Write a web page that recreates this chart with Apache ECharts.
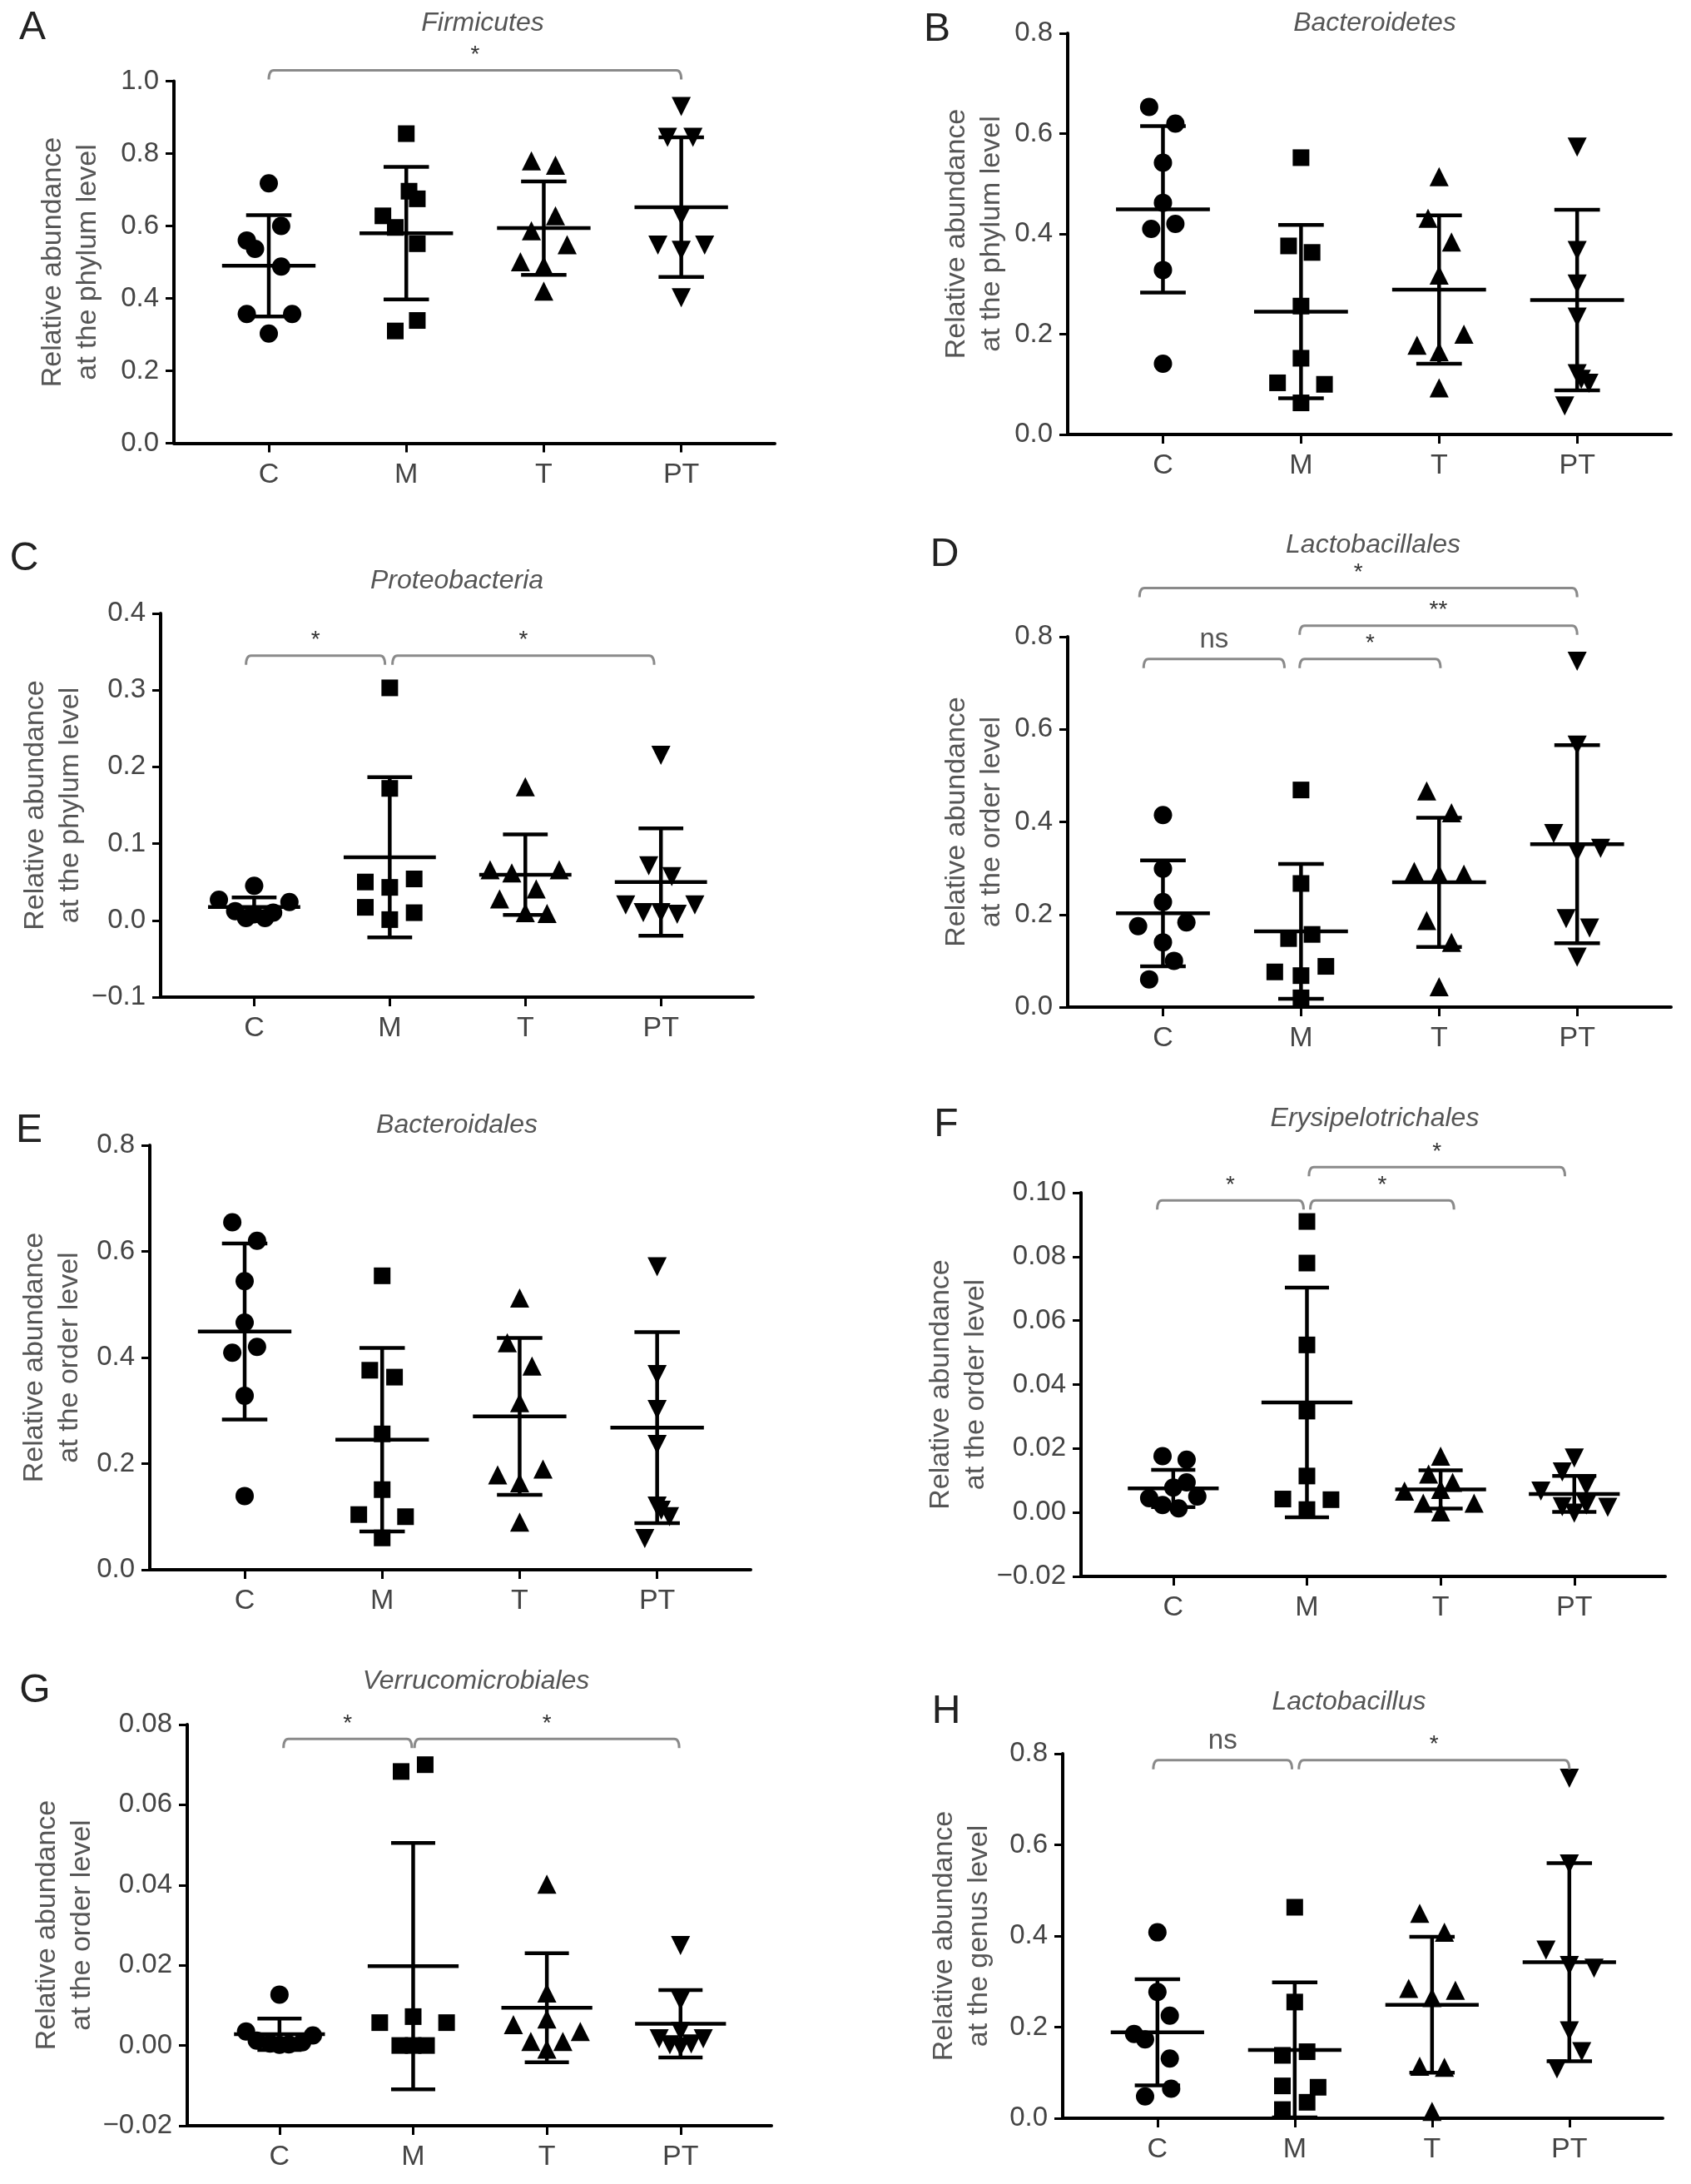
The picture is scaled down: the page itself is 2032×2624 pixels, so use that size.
<!DOCTYPE html>
<html>
<head>
<meta charset="utf-8">
<script src="https://cdn.jsdelivr.net/npm/echarts@6/dist/echarts.min.js"></script>
<style>
html,body{margin:0;padding:0;background:#fff;}
#chart{width:2032px;height:2624px;}
</style>
</head>
<body>
<div id="chart"></div>
<script>
// ---------------- DATA ----------------
const categories = ['C', 'M', 'T', 'PT'];

// A: Firmicutes (phylum)
const firmicutesValues = [
  [0.718, 0.600, 0.560, 0.537, 0.488, 0.357, 0.357, 0.303],
  [0.855, 0.628, 0.596, 0.696, 0.675, 0.551, 0.310, 0.339],
  [0.780, 0.768, 0.628, 0.587, 0.548, 0.501, 0.490, 0.420],
  [0.930, 0.845, 0.845, 0.628, 0.547, 0.547, 0.533, 0.402]
];
const firmicutesJitter = [
  [0, 0.09, -0.16, -0.10, 0.09, -0.16, 0.17, 0],
  [0, -0.17, -0.08, 0.02, 0.08, 0.08, -0.08, 0.08],
  [-0.09, 0.085, 0.085, -0.09, 0.17, -0.17, 0, 0],
  [0, -0.10, 0.085, 0, -0.17, 0.17, 0, 0]
];
const firmicutesMean = [0.490, 0.580, 0.594, 0.652];
const firmicutesSD = [0.140, 0.183, 0.129, 0.193];
const firmicutesTicks = [0, 1.0, 0.2];
const firmicutesBrackets = [[1.0, 4.0, 1.03, '*']];

// B: Bacteroidetes (phylum)
const bacteroidetesValues = [
  [0.653, 0.620, 0.542, 0.462, 0.410, 0.420, 0.328, 0.141],
  [0.552, 0.376, 0.363, 0.256, 0.152, 0.103, 0.100, 0.063],
  [0.514, 0.431, 0.384, 0.318, 0.178, 0.200, 0.165, 0.093],
  [0.573, 0.367, 0.300, 0.234, 0.121, 0.102, 0.057, 0.110]
];
const bacteroidetesJitter = [
  [-0.10, 0.09, 0, 0, -0.085, 0.09, 0, 0],
  [0, -0.09, 0.08, 0, 0, -0.17, 0.17, 0],
  [0, -0.08, 0.09, 0, -0.16, 0.18, 0, 0],
  [0, 0, 0, 0, 0, 0.085, -0.09, 0.03]
];
const bacteroidetesMean = [0.449, 0.245, 0.289, 0.268];
const bacteroidetesSD = [0.166, 0.173, 0.148, 0.180];
const bacteroidetesTicks = [0, 0.8, 0.2];
const bacteroidetesBrackets = [];

// C: Proteobacteria (phylum)
const proteobacteriaValues = [
  [0.045, 0.027, 0.024, 0.012, 0.008, 0.010, 0.003, 0.003],
  [0.303, 0.172, 0.050, 0.054, 0.043, 0.017, 0.010, 0.001],
  [0.174, 0.066, 0.062, 0.066, 0.041, 0.028, 0.010, 0.009],
  [0.215, 0.071, 0.057, 0.020, 0.020, 0.010, 0.010, 0.008]
];
const proteobacteriaJitter = [
  [0, -0.26, 0.26, -0.14, 0, 0.14, -0.06, 0.08],
  [0, 0, -0.18, 0.18, 0, -0.18, 0.18, 0],
  [0, -0.26, -0.10, 0.25, 0.08, -0.19, 0, 0.16],
  [0, -0.09, 0.08, -0.26, 0.25, -0.13, 0, 0.12]
];
const proteobacteriaMean = [0.0175, 0.0823, 0.0595, 0.050];
const proteobacteriaSD = [0.0125, 0.1044, 0.0525, 0.070];
const proteobacteriaTicks = [-0.1, 0.4, 0.1];
const proteobacteriaBrackets = [[0.94, 1.965, 0.345, '*'], [2.02, 3.95, 0.345, '*']];

// D: Lactobacillales (order)
const lactobacillalesValues = [
  [0.415, 0.299, 0.227, 0.175, 0.183, 0.140, 0.100, 0.060],
  [0.469, 0.267, 0.148, 0.157, 0.076, 0.088, 0.068, 0.020],
  [0.467, 0.420, 0.293, 0.287, 0.287, 0.187, 0.140, 0.044],
  [0.747, 0.566, 0.375, 0.335, 0.343, 0.191, 0.171, 0.108]
];
const lactobacillalesJitter = [
  [0, 0, 0, -0.18, 0.17, 0, 0.08, -0.10],
  [0, 0, -0.09, 0.08, -0.19, 0.18, 0, 0],
  [-0.09, 0.09, -0.18, 0, 0.18, -0.09, 0.09, 0],
  [0, 0, -0.17, 0, 0.17, -0.08, 0.09, 0]
];
const lactobacillalesMean = [0.2025, 0.1635, 0.2695, 0.352];
const lactobacillalesSD = [0.1145, 0.1455, 0.1395, 0.214];
const lactobacillalesTicks = [0, 0.8, 0.2];
const lactobacillalesBrackets = [
  [0.83, 4.0, 0.905, '*'], [0.86, 1.88, 0.752, 'ns'],
  [1.99, 3.01, 0.752, '*'], [1.99, 4.0, 0.824, '**']
];

// E: Bacteroidales (order)
const bacteroidalesValues = [
  [0.655, 0.620, 0.544, 0.466, 0.409, 0.420, 0.328, 0.139],
  [0.554, 0.376, 0.363, 0.256, 0.151, 0.104, 0.100, 0.060],
  [0.512, 0.428, 0.384, 0.315, 0.179, 0.190, 0.164, 0.090],
  [0.571, 0.368, 0.302, 0.236, 0.120, 0.100, 0.059, 0.112]
];
const bacteroidalesJitter = [
  [-0.09, 0.09, 0, 0, -0.09, 0.09, 0, 0],
  [0, -0.09, 0.09, 0, 0, -0.17, 0.17, 0],
  [0, -0.09, 0.09, 0, -0.16, 0.17, 0, 0],
  [0, 0, 0, 0, 0, 0.09, -0.09, 0.03]
];
const bacteroidalesMean = [0.449, 0.245, 0.289, 0.268];
const bacteroidalesSD = [0.166, 0.173, 0.148, 0.180];
const bacteroidalesTicks = [0, 0.8, 0.2];
const bacteroidalesBrackets = [];

// F: Erysipelotrichales (order)
const erysipelotrichalesValues = [
  [0.0176, 0.0165, 0.0094, 0.0078, 0.0045, 0.0050, 0.0023, 0.0013],
  [0.0910, 0.0780, 0.0524, 0.0317, 0.0114, 0.0042, 0.0040, 0.0009],
  [0.0176, 0.0120, 0.0094, 0.0067, 0.0072, 0.0029, 0.0029, 0.0002],
  [0.0170, 0.0127, 0.0083, 0.0067, 0.0018, 0.0023, 0.0016, -0.0002]
];
const erysipelotrichalesJitter = [
  [-0.08, 0.10, 0.10, 0, -0.18, 0.18, -0.08, 0.04],
  [0, 0, 0, 0, 0, -0.18, 0.18, 0],
  [0, -0.09, 0.09, -0.27, 0, -0.13, 0.25, 0],
  [0, -0.09, 0.09, -0.25, -0.09, 0.09, 0.25, 0]
];
const erysipelotrichalesMean = [0.0075, 0.0344, 0.0072, 0.0058];
const erysipelotrichalesSD = [0.0058, 0.0359, 0.0060, 0.0056];
const erysipelotrichalesTicks = [-0.02, 0.10, 0.02];
const erysipelotrichalesBrackets = [
  [0.88, 1.975, 0.0976, '*'], [2.025, 3.10, 0.0976, '*'], [2.015, 3.93, 0.108, '*']
];

// G: Verrucomicrobiales (order)
const verrucomicrobialesValues = [
  [0.0127, 0.0035, 0.0025, 0.0012, 0.0008, 0.0005, 0.0003, 0.0002],
  [0.0683, 0.0700, 0.0072, 0.0057, 0.0057, 0.0000, 0.0000, 0.0000],
  [0.0402, 0.0131, 0.0066, 0.0052, 0.0035, 0.0010, 0.0010, -0.0009],
  [0.0249, 0.0112, 0.0035, 0.0017, 0.0017, 0.0002, 0.0004, -0.0004]
];
const verrucomicrobialesJitter = [
  [0, -0.25, 0.25, -0.17, 0.17, -0.07, 0.07, 0],
  [-0.09, 0.09, 0, -0.25, 0.25, -0.10, 0, 0.10],
  [0, 0, 0, -0.25, 0.25, -0.12, 0.12, 0],
  [0, 0, 0, -0.16, 0.17, -0.08, 0.08, 0]
];
const verrucomicrobialesMean = [0.0028, 0.0198, 0.0094, 0.0054];
const verrucomicrobialesSD = [0.0039, 0.0307, 0.0136, 0.0084];
const verrucomicrobialesTicks = [-0.02, 0.08, 0.02];
const verrucomicrobialesBrackets = [[1.03, 1.99, 0.0764, '*'], [2.01, 3.99, 0.0764, '*']];

// H: Lactobacillus (genus)
const lactobacillusValues = [
  [0.408, 0.277, 0.225, 0.185, 0.173, 0.131, 0.065, 0.048],
  [0.463, 0.255, 0.138, 0.146, 0.071, 0.068, 0.035, 0.019],
  [0.450, 0.408, 0.285, 0.265, 0.281, 0.114, 0.112, 0.015],
  [0.746, 0.558, 0.369, 0.335, 0.329, 0.192, 0.146, 0.108]
];
const lactobacillusJitter = [
  [0, 0, 0.09, -0.17, -0.09, 0.09, 0.10, -0.09],
  [0, 0, -0.09, 0.09, -0.09, 0.17, 0.09, -0.09],
  [-0.09, 0.09, -0.17, 0, 0.17, -0.09, 0.09, 0],
  [0, 0, -0.17, 0, 0.18, 0, 0.09, -0.09]
];
const lactobacillusMean = [0.1885, 0.150, 0.249, 0.3425];
const lactobacillusSD = [0.1165, 0.148, 0.149, 0.2175];
const lactobacillusTicks = [0, 0.8, 0.2];
const lactobacillusBrackets = [[0.97, 1.98, 0.786, 'ns'], [2.03, 4.0, 0.786, '*']];

// ---------------- LAYOUT / STYLE ----------------
const FONT = '"Liberation Sans", Arial, Helvetica, sans-serif';
const panels = [
  {letter:'A', title:'Firmicutes', level:'phylum', vals:firmicutesValues, jit:firmicutesJitter, mean:firmicutesMean, sd:firmicutesSD, ticks:firmicutesTicks, br:firmicutesBrackets, dec:1,
   grid:[209, 97.5, 722, 435], nameGap:82, titlePos:[580, 28], letterPos:[39, 34]},
  {letter:'B', title:'Bacteroidetes', level:'phylum', vals:bacteroidetesValues, jit:bacteroidetesJitter, mean:bacteroidetesMean, sd:bacteroidetesSD, ticks:bacteroidetesTicks, br:bacteroidetesBrackets, dec:1,
   grid:[1283, 40, 725, 482], nameGap:70, titlePos:[1652, 28], letterPos:[1126, 36]},
  {letter:'C', title:'Proteobacteria', level:'phylum', vals:proteobacteriaValues, jit:proteobacteriaJitter, mean:proteobacteriaMean, sd:proteobacteriaSD, ticks:proteobacteriaTicks, br:proteobacteriaBrackets, dec:1,
   grid:[193, 737, 712, 461], nameGap:80, titlePos:[549, 698], letterPos:[29, 672]},
  {letter:'D', title:'Lactobacillales', level:'order', vals:lactobacillalesValues, jit:lactobacillalesJitter, mean:lactobacillalesMean, sd:lactobacillalesSD, ticks:lactobacillalesTicks, br:lactobacillalesBrackets, dec:1,
   grid:[1283, 765, 725, 445], nameGap:70, titlePos:[1650, 655], letterPos:[1135, 667]},
  {letter:'E', title:'Bacteroidales', level:'order', vals:bacteroidalesValues, jit:bacteroidalesJitter, mean:bacteroidalesMean, sd:bacteroidalesSD, ticks:bacteroidalesTicks, br:bacteroidalesBrackets, dec:1,
   grid:[180, 1376, 722, 510], nameGap:75, titlePos:[549, 1352], letterPos:[35, 1359]},
  {letter:'F', title:'Erysipelotrichales', level:'order', vals:erysipelotrichalesValues, jit:erysipelotrichalesJitter, mean:erysipelotrichalesMean, sd:erysipelotrichalesSD, ticks:erysipelotrichalesTicks, br:erysipelotrichalesBrackets, dec:2,
   grid:[1299, 1433, 702, 461], nameGap:89, titlePos:[1652, 1344], letterPos:[1137, 1352]},
  {letter:'G', title:'Verrucomicrobiales', level:'order', vals:verrucomicrobialesValues, jit:verrucomicrobialesJitter, mean:verrucomicrobialesMean, sd:verrucomicrobialesSD, ticks:verrucomicrobialesTicks, br:verrucomicrobialesBrackets, dec:2,
   grid:[225, 2072, 702, 482], nameGap:92, titlePos:[572, 2020], letterPos:[42, 2032]},
  {letter:'H', title:'Lactobacillus', level:'genus', vals:lactobacillusValues, jit:lactobacillusJitter, mean:lactobacillusMean, sd:lactobacillusSD, ticks:lactobacillusTicks, br:lactobacillusBrackets, dec:1,
   grid:[1277, 2107, 721, 438], nameGap:79, titlePos:[1621, 2045], letterPos:[1137, 2057]}
];

const symbols = ['circle', 'rect', 'triangle', 'triangle'];
const symbolRot = [0, 0, 0, 180];
const symbolSizes = [22, 20, 23, 23];

const grids = [], xAxes = [], yAxes = [], series = [], graphics = [];

panels.forEach((p, i) => {
  grids.push({left: p.grid[0], top: p.grid[1], width: p.grid[2], height: p.grid[3], containLabel: false});
  xAxes.push({
    type: 'value', gridIndex: i, min: 0.31, max: 4.68,
    axisLine: {show: true, onZero: false, lineStyle: {color: '#000', width: 4}},
    axisTick: {show: true, customValues: [1, 2, 3, 4], length: 11, lineStyle: {color: '#000', width: 3}},
    axisLabel: {show: true, customValues: [1, 2, 3, 4], margin: 21, fontSize: 34, color: '#444', fontFamily: FONT,
      formatter: v => categories[Math.round(v) - 1]},
    splitLine: {show: false}
  });
  yAxes.push({
    type: 'value', gridIndex: i, min: p.ticks[0], max: p.ticks[1], interval: p.ticks[2],
    name: 'Relative abundance\nat the ' + p.level + ' level',
    nameLocation: 'middle', nameGap: p.nameGap, nameRotate: 90,
    nameTextStyle: {fontSize: 34, color: '#555', fontFamily: FONT, lineHeight: 42},
    axisLine: {show: true, onZero: false, lineStyle: {color: '#000', width: 4}},
    axisTick: {show: true, length: 10, lineStyle: {color: '#000', width: 3}},
    axisLabel: {fontSize: 33, color: '#444', margin: 18, fontFamily: FONT,
      formatter: v => (v < -1e-9 ? '\u2212' : '') + Math.abs(v).toFixed(p.dec)},
    splitLine: {show: false}
  });
  // scatter points
  p.vals.forEach((arr, g) => {
    series.push({
      type: 'scatter', xAxisIndex: i, yAxisIndex: i,
      symbol: symbols[g], symbolRotate: symbolRot[g], symbolSize: symbolSizes[g],
      itemStyle: {color: '#000', opacity: 1},
      data: arr.map((v, k) => [g + 1 + p.jit[g][k], v]),
      z: 3, silent: true
    });
  });
  // mean and SD bars
  series.push({
    type: 'custom', xAxisIndex: i, yAxisIndex: i, clip: false, z: 4, silent: true,
    data: p.mean.map((m, g) => [g + 1, m, p.sd[g]]),
    renderItem: (params, api) => {
      const x = api.value(0), m = api.value(1), s = api.value(2);
      const c = api.coord([x, m]), t = api.coord([x, m + s]), b = api.coord([x, m - s]);
      const hm = api.size([0.34, 0])[0], hc = api.size([0.165, 0])[0];
      const st = {stroke: '#000', lineWidth: 4.5};
      return {type: 'group', children: [
        {type: 'line', shape: {x1: c[0] - hm, y1: c[1], x2: c[0] + hm, y2: c[1]}, style: st},
        {type: 'line', shape: {x1: c[0], y1: t[1], x2: c[0], y2: b[1]}, style: st},
        {type: 'line', shape: {x1: c[0] - hc, y1: t[1], x2: c[0] + hc, y2: t[1]}, style: st},
        {type: 'line', shape: {x1: c[0] - hc, y1: b[1], x2: c[0] + hc, y2: b[1]}, style: st}
      ]};
    }
  });
  // significance brackets
  if (p.br.length) {
    const list = p.br;
    series.push({
      type: 'custom', xAxisIndex: i, yAxisIndex: i, clip: false, z: 5, silent: true,
      data: list.map(b => [b[0], b[2]]),
      renderItem: (params, api) => {
        const b = list[params.dataIndex];
        const p1 = api.coord([b[0], b[2]]), p2 = api.coord([b[1], b[2]]);
        const r = 6, d = 11;
        const path = 'M' + p1[0] + ' ' + (p1[1] + d) + ' Q' + p1[0] + ' ' + p1[1] + ' ' + (p1[0] + r) + ' ' + p1[1] +
          ' L' + (p2[0] - r) + ' ' + p2[1] + ' Q' + p2[0] + ' ' + p2[1] + ' ' + p2[0] + ' ' + (p2[1] + d);
        const isNs = b[3] === 'ns';
        return {type: 'group', children: [
          {type: 'path', shape: {pathData: path}, style: {fill: 'none', stroke: '#8a8a8a', lineWidth: 3}},
          {type: 'text', style: {text: b[3], x: (p1[0] + p2[0]) / 2, y: p1[1] - (isNs ? 6 : 4),
            textAlign: 'center', textVerticalAlign: 'bottom', fontSize: isNs ? 33 : 28,
            fill: isNs ? '#555' : '#333', fontFamily: FONT}}
        ]};
      }
    });
  }
  // panel title and letter
  graphics.push({type: 'text', x: p.titlePos[0], y: p.titlePos[1],
    style: {text: p.title, fontSize: 32, fontStyle: 'italic', fill: '#555', fontFamily: FONT, textAlign: 'center', textVerticalAlign: 'middle'}});
  graphics.push({type: 'text', x: p.letterPos[0], y: p.letterPos[1],
    style: {text: p.letter, fontSize: 48, fill: '#222', fontFamily: FONT, textAlign: 'center', textVerticalAlign: 'middle'}});
});

const chart = echarts.init(document.getElementById('chart'), null, {renderer: 'canvas', width: 2032, height: 2624});
chart.setOption({
  backgroundColor: '#fff',
  animation: false,
  grid: grids,
  xAxis: xAxes,
  yAxis: yAxes,
  series: series,
  graphic: graphics
});
</script>
</body>
</html>
